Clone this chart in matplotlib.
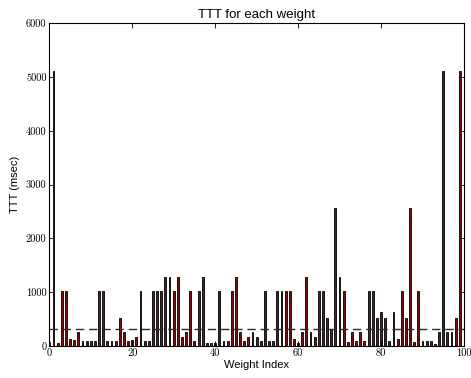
import matplotlib
matplotlib.use("Agg")
import matplotlib.pyplot as plt
import numpy as np

# Data
weight_index = list(range(100))
ttt_msec = [
    80, 5120, 64, 1024, 1024, 128, 112, 256, 96, 96,
    96, 96, 1024, 1024, 96, 96, 96, 512, 256, 96,
    120, 160, 1024, 96, 96, 1024, 1024, 1024, 1280, 1280,
    1024, 1280, 160, 256, 1024, 96, 1024, 1280, 64, 64,
    64, 1024, 96, 96, 1024, 1280, 256, 100, 160, 256,
    160, 96, 1024, 96, 96, 1024, 1024, 1024, 1024, 128,
    64, 256, 1280, 256, 160, 1024, 1024, 512, 320, 2560,
    1280, 1024, 72, 256, 96, 256, 96, 1024, 1024, 512,
    640, 512, 100, 640, 128, 1024, 512, 2560, 72, 1024,
    100, 100, 100, 40, 256, 5120, 256, 256, 512, 5120,
]
threshold = 325
y_ticks = [0, 1000, 2000, 3000, 4000, 5000, 6000]
x_ticks = [0, 20, 40, 60, 80, 100]

fig = plt.figure(figsize=(4.71, 3.78), dpi=100)
ax = fig.add_axes([0.1047, 0.0847, 0.8803, 0.8535])

ax.bar(weight_index, ttt_msec, width=0.45, align='center',
       facecolor='#6e1414', edgecolor='black', linewidth=0.6)
ax.axhline(threshold, color='#2a2a2a', linestyle=(0, (6, 3.5)), linewidth=1.0)

ax.set_xlim(0, 100)
ax.set_ylim(0, 6000)
ax.set_xticks(x_ticks)
ax.set_yticks(y_ticks)
ax.set_xticklabels([str(t) for t in x_ticks], fontfamily='cmr10', fontsize=7.5)
ax.set_yticklabels([str(t) for t in y_ticks], fontfamily='cmr10', fontsize=7.5)
ax.tick_params(direction='in', top=True, right=True, length=3.5, width=0.6, pad=2)
for s in ax.spines.values():
    s.set_linewidth(0.8)

ax.set_title('TTT for each weight', fontsize=9.5, fontfamily='Liberation Sans', pad=4)
ax.set_xlabel('Weight Index', fontsize=8, fontfamily='Liberation Sans', labelpad=1)
ax.set_ylabel('TTT (msec)', fontsize=8, fontfamily='Liberation Sans', labelpad=4)

fig.savefig('out.png', dpi=100)
